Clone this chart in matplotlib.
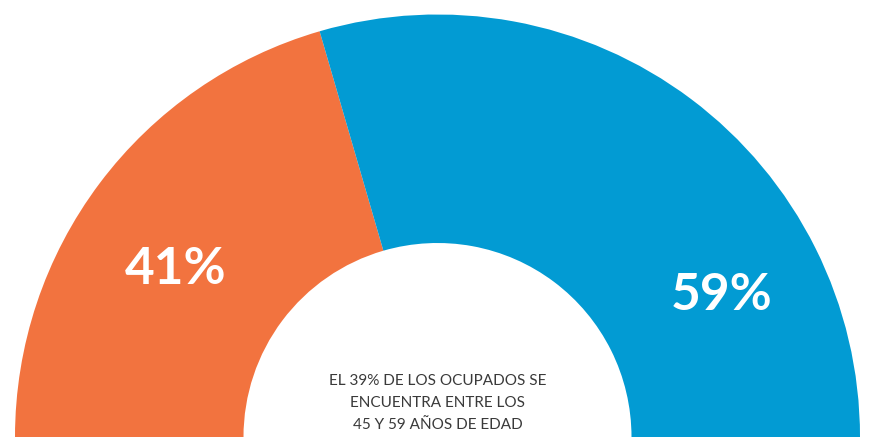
import matplotlib.pyplot as plt

# datos
etiquetas = ["41%", "59%"]
valores = [41, 59]
colores = ["#F2733F", "#029BD3"]
texto_centro = "EL 39% DE LOS OCUPADOS SE\nENCUENTRA ENTRE LOS\n45 Y 59 AÑOS DE EDAD"

plt.rcParams['font.family'] = ['Lato', 'DejaVu Sans']

fig = plt.figure(figsize=(8.73, 4.37), dpi=100)
ax = fig.add_axes([0, 0, 1, 1])

# semicirculo: la mitad inferior queda invisible
total = sum(valores)
wedges, _ = ax.pie(valores + [total], colors=colores + ["none"],
                   startangle=180, counterclock=False,
                   center=(437.5, 0), radius=422.5,
                   wedgeprops=dict(width=228.5, linewidth=0))

ax.text(176, 168, etiquetas[0], color="white", fontsize=37,
        fontweight="bold", ha="center", va="center")
ax.text(722, 142, etiquetas[1], color="white", fontsize=37,
        fontweight="bold", ha="center", va="center")
ax.text(438, 34, texto_centro, color="#3a3a3a", fontsize=11,
        fontweight="normal", ha="center", va="center", linespacing=1.7)

ax.set_xlim(0, 873)
ax.set_ylim(0, 437)
ax.set_aspect("equal")
ax.axis("off")

plt.savefig("out.png", dpi=100)
